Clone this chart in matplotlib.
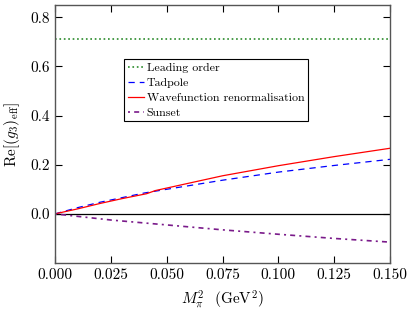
import numpy as np
import matplotlib
matplotlib.use("Agg")
import matplotlib.pyplot as plt

plt.rcParams['font.family'] = 'cmr10'
plt.rcParams['mathtext.fontset'] = 'cm'
plt.rcParams['axes.formatter.use_mathtext'] = True
plt.rcParams['font.size'] = 11

x_lo = [0.0, 0.15]
y_lo = [0.71, 0.71]

x_tad = [0.0, 0.01, 0.02, 0.03, 0.04, 0.05, 0.075, 0.1, 0.125, 0.15]
y_tad = [0.0, 0.025, 0.047, 0.066, 0.085, 0.100, 0.137, 0.170, 0.197, 0.222]

x_wf = [0.0, 0.01, 0.02, 0.03, 0.041, 0.045, 0.05, 0.075, 0.1, 0.125, 0.15]
y_wf = [0.0, 0.020, 0.042, 0.062, 0.082, 0.095, 0.105, 0.155, 0.196, 0.233, 0.267]

x_sun = [0.0, 0.025, 0.05, 0.075, 0.1, 0.125, 0.15]
y_sun = [0.0, -0.025, -0.045, -0.065, -0.083, -0.100, -0.115]

xticks = [0.0, 0.025, 0.05, 0.075, 0.1, 0.125, 0.15]
yticks = [0.0, 0.2, 0.4, 0.6, 0.8]

fig = plt.figure(figsize=(4.15, 3.12), dpi=100)
ax = fig.add_axes([0.1325, 0.157, 0.8075, 0.827])

ax.axhline(0, color='black', lw=0.9)
ax.plot(x_lo, y_lo, color='#2a8a2a', ls=':', lw=1.2, label='Leading order')
ax.plot(x_tad, y_tad, color='blue', ls=(0, (5, 4)), lw=0.9, label='Tadpole')
ax.plot(x_wf, y_wf, color='red', ls='-', lw=0.9, label='Wavefunction renormalisation')
ax.plot(x_sun, y_sun, color='#7a1a8a', ls=(0, (1.2, 2.5, 3, 2.5)), lw=1.2, label='Sunset')

ax.set_xlim(0, 0.15)
ax.set_ylim(-0.2, 0.85)
ax.set_xticks(xticks)
ax.set_xticklabels([f'{v:.3f}' for v in xticks])
ax.set_yticks(yticks)
ax.set_yticklabels([f'{v:.1f}' for v in yticks])
ax.tick_params(direction='in', top=True, right=True, length=5, width=0.8, labelsize=11)
for s in ax.spines.values():
    s.set_color('#555555')
    s.set_linewidth(1.0)

ax.set_xlabel(r'$M_\pi^2$  (GeV$^2$)', fontsize=11, labelpad=5)
ax.set_ylabel(r'Re$[(g_3)_{\rm eff}]$', fontsize=11, labelpad=6)

leg = ax.legend(loc='upper left', bbox_to_anchor=(0.206, 0.79), borderaxespad=0,
                fancybox=False, shadow=False, edgecolor='black', framealpha=1,
                handlelength=1.4, handletextpad=0.2, borderpad=0.3,
                labelspacing=0.38, fontsize=8.6)
leg.get_frame().set_linewidth(0.8)

fig.savefig('out.png', dpi=100)
